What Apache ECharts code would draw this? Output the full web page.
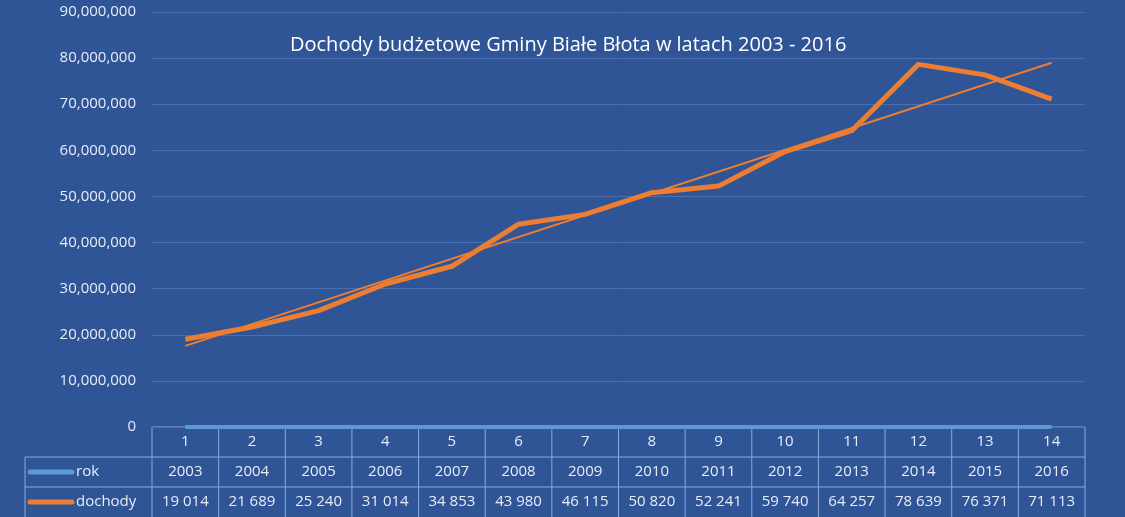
<!DOCTYPE html>
<html>
<head>
<meta charset="utf-8">
<script src="https://cdn.jsdelivr.net/npm/echarts@6/dist/echarts.min.js"></script>
<style>
  html, body { margin: 0; padding: 0; background: #2F5597; }
  #chart { width: 1125px; height: 517px; }
</style>
</head>
<body>
<div id="chart"></div>
<script>
// DATA
const indexes = ['1', '2', '3', '4', '5', '6', '7', '8', '9', '10', '11', '12', '13', '14'];
const rok = [2003, 2004, 2005, 2006, 2007, 2008, 2009, 2010, 2011, 2012, 2013, 2014, 2015, 2016];
const dochodyTys = [19014, 21689, 25240, 31014, 34853, 43980, 46115, 50820, 52241, 59740, 64257, 78639, 76371, 71113];
const trendStart = 17600000;
const trendEnd = 79000000;

const dochody = dochodyTys.map(v => v * 1000);
const fmt = v => String(v).replace(/\B(?=(\d{3})+(?!\d))/g, ' ');

// LAYOUT
const plotLeft = 152, plotRight = 1085, plotTop = 12, axisY = 427;
const rowH = 30;
const lineColor = '#8EA9DB';
const textColor = '#E7ECF7';

const chart = echarts.init(document.querySelector('#chart'));

const tableLines = [];
const hLine = (x1, x2, y) => tableLines.push({ type: 'line', shape: { x1, y1: y, x2, y2: y }, style: { stroke: lineColor, lineWidth: 1 }, silent: true });
const vLine = (x, y1, y2) => tableLines.push({ type: 'line', shape: { x1: x, y1, x2: x, y2 }, style: { stroke: lineColor, lineWidth: 1 }, silent: true });
hLine(plotLeft, plotRight, axisY);
hLine(25, plotRight, axisY + rowH);
hLine(25, plotRight, axisY + 2 * rowH);
const colW = (plotRight - plotLeft) / indexes.length;
for (let i = 0; i <= indexes.length; i++) vLine(plotLeft + i * colW, axisY, 517);
vLine(25, axisY + rowH, 517);

// legend keys in the table
const keys = [
    { name: 'rok', color: '#5B9BD5', y: axisY + rowH * 1.5 },
    { name: 'dochody', color: '#ED7D31', y: axisY + rowH * 2.5 }
];
keys.forEach(k => {
    tableLines.push({ type: 'line', shape: { x1: 30, y1: k.y, x2: 72, y2: k.y }, style: { stroke: k.color, lineWidth: 5, lineCap: 'round' } });
    tableLines.push({ type: 'text', x: 76, y: k.y, style: { text: k.name, fill: textColor, fontSize: 15, fontFamily: 'Open Sans', verticalAlign: 'middle' } });
});

const option = {
    backgroundColor: '#2F5597',
    animation: false,
    title: {
        text: 'Dochody budżetowe Gminy Białe Błota w latach 2003 - 2016',
        left: 285,
        top: 30,
        textStyle: { color: '#FFFFFF', fontSize: 20, fontWeight: 'normal', fontFamily: 'Open Sans' }
    },
    grid: { left: plotLeft, right: 1125 - plotRight, top: plotTop, bottom: 517 - axisY },
    xAxis: [
        {
            type: 'category',
            data: indexes,
            boundaryGap: true,
            axisLine: { show: false },
            axisTick: { show: false },
            axisLabel: {
                margin: 0,
                interval: 0,
                color: textColor,
                fontSize: 15,
                fontFamily: 'Open Sans',
                lineHeight: rowH,
                formatter: (value, i) => `${value}\n${rok[i]}\n${fmt(dochodyTys[i])}`
            }
        },
        {
            type: 'value',
            min: 0.5,
            max: 14.5,
            show: false
        }
    ],
    yAxis: {
        type: 'value',
        min: 0,
        max: 90000000,
        interval: 10000000,
        axisLine: { show: false },
        axisTick: { show: false },
        splitLine: { lineStyle: { color: '#4A6FB0', width: 1 } },
        axisLabel: { color: textColor, fontSize: 15, fontFamily: 'Open Sans', margin: 16 }
    },
    series: [
        {
            name: 'rok',
            type: 'line',
            data: rok,
            symbol: 'none',
            lineStyle: { color: '#5B9BD5', width: 4 }
        },
        {
            name: 'dochody',
            type: 'line',
            data: dochody,
            symbol: 'none',
            lineStyle: { color: '#ED7D31', width: 5 }
        },
        {
            name: 'trend',
            type: 'line',
            xAxisIndex: 1,
            data: [[1, trendStart], [14, trendEnd]],
            symbol: 'none',
            lineStyle: { color: '#ED7D31', width: 2 }
        }
    ],
    graphic: tableLines
};

chart.setOption(option);
</script>
</body>
</html>
